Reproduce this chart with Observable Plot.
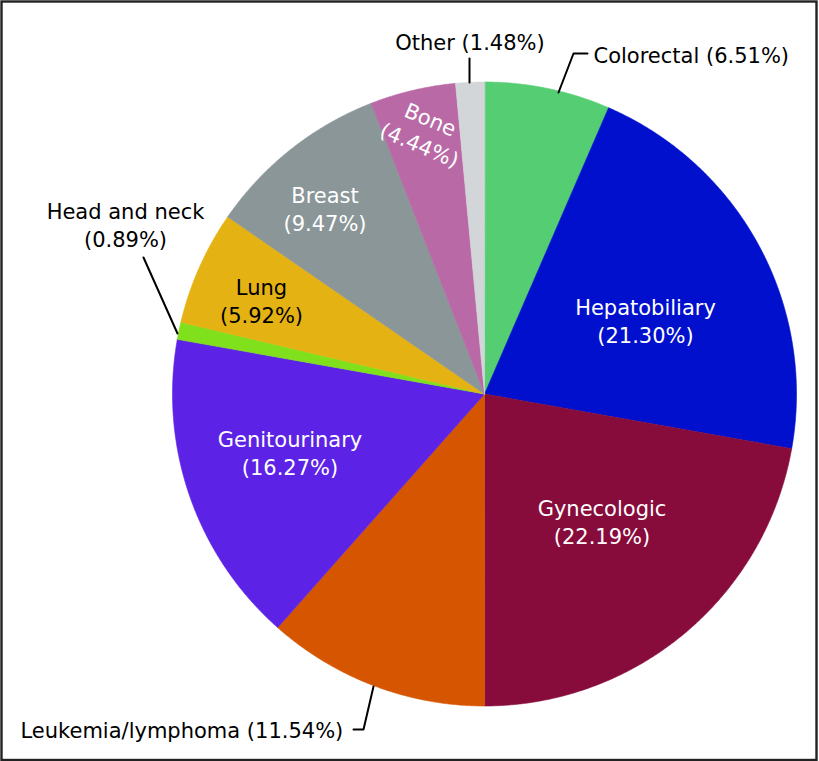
<!DOCTYPE html>
<html>
<head>
<meta charset="utf-8">
<script src="https://cdn.jsdelivr.net/npm/d3@7"></script>
<script src="https://cdn.jsdelivr.net/npm/@observablehq/plot@0.6"></script>
<style>
  html, body { margin: 0; padding: 0; background: #fff; overflow: hidden; }
  svg { display: block; }
</style>
</head>
<body>
<div id="chart"></div>
<script>
// ---- data ----
const categories = ["Colorectal", "Hepatobiliary", "Gynecologic", "Leukemia/lymphoma", "Genitourinary",
                    "Head and neck", "Lung", "Breast", "Bone", "Other"];
const shares = [6.51, 21.30, 22.19, 11.54, 16.27, 0.89, 5.92, 9.47, 4.44, 1.48];
const colors = ["#55ce73", "#0010cd", "#870b3b", "#d55500", "#5c22e6",
                "#80e01c", "#e5b213", "#8a9698", "#b96aa6", "#d3d6d8"];

// ---- layout (pixel-unit coordinates via identity-like scales) ----
const CX = 484, CY = 393.5, R = 312;

const arcs = d3.pie().sort(null).value(d => d)(shares);
const slicePts = [];
arcs.forEach((a, i) => {
  const cat = categories[i];
  slicePts.push({cat, x: CX, y: CY});
  const n = Math.max(2, Math.ceil((a.endAngle - a.startAngle) / 0.005));
  for (let k = 0; k <= n; k++) {
    const t = a.startAngle + (a.endAngle - a.startAngle) * k / n;
    slicePts.push({cat, x: CX + R * Math.sin(t), y: CY - R * Math.cos(t)});
  }
});
const pct = c => `(${shares[categories.indexOf(c)].toFixed(2)}%)`;

const insideLabels = [
  {cat: "Hepatobiliary", x: 645, y: 319.3, fill: "white", rotate: 0},
  {cat: "Gynecologic", x: 601.5, y: 520.3, fill: "white", rotate: 0},
  {cat: "Genitourinary", x: 289.5, y: 451.8, fill: "white", rotate: 0},
  {cat: "Lung", x: 261, y: 299.8, fill: "black", rotate: 0},
  {cat: "Breast", x: 324.5, y: 207.8, fill: "white", rotate: 0},
  {cat: "Bone", x: 425, y: 130.5, fill: "white", rotate: 23}
].map(d => ({...d, text: `${d.cat}\n${pct(d.cat)}`}));

const outsideMiddle = [
  {cat: "Other", x: 469.5, y: 41, text: `Other ${pct("Other")}`},
  {cat: "Head and neck", x: 125, y: 223.6, text: `Head and neck\n${pct("Head and neck")}`}
];
const outsideStart = [
  {cat: "Colorectal", x: 593, y: 53.3, text: `Colorectal ${pct("Colorectal")}`},
  {cat: "Leukemia/lymphoma", x: 20, y: 728.3, text: `Leukemia/lymphoma ${pct("Leukemia/lymphoma")}`}
];

const leaders = [
  {id: "Other", x: 469, y: 58}, {id: "Other", x: 469, y: 82},
  {id: "Colorectal", x: 587, y: 53}, {id: "Colorectal", x: 573, y: 53}, {id: "Colorectal", x: 558, y: 92},
  {id: "Head", x: 143, y: 257}, {id: "Head", x: 177, y: 333},
  {id: "Leuk", x: 353, y: 729}, {id: "Leuk", x: 363, y: 729}, {id: "Leuk", x: 373, y: 686}
];

const chart = Plot.plot({
  width: 819,
  height: 761,
  marginLeft: 1, marginTop: 1, marginRight: 3, marginBottom: 1.5,
  x: {domain: [0, 819], range: [0, 819], axis: null},
  y: {domain: [0, 761], range: [0, 761], axis: null},
  color: {domain: categories, range: colors},
  style: {fontFamily: "DejaVu Sans", background: "white"},
  marks: [
    Plot.line(slicePts, {x: "x", y: "y", z: "cat", fill: "cat", stroke: "cat", strokeWidth: 0.6, curve: "linear-closed"}),
    Plot.line(leaders, {x: "x", y: "y", z: "id", stroke: "black", strokeWidth: 2}),
    Plot.text(insideLabels, {x: "x", y: "y", text: "text", fill: d => d.fill, rotate: "rotate",
      fontSize: 21, lineHeight: 1.33}),
    Plot.text(outsideMiddle, {x: "x", y: "y", text: "text", fill: "black", textAnchor: "middle",
      fontSize: 21, lineHeight: 1.33}),
    Plot.text(outsideStart, {x: "x", y: "y", text: "text", fill: "black", textAnchor: "start",
      fontSize: 21, lineHeight: 1.33}),
    Plot.frame({stroke: "#222", strokeWidth: 2.4})
  ]
});
document.getElementById("chart").appendChild(chart);
</script>
</body>
</html>
